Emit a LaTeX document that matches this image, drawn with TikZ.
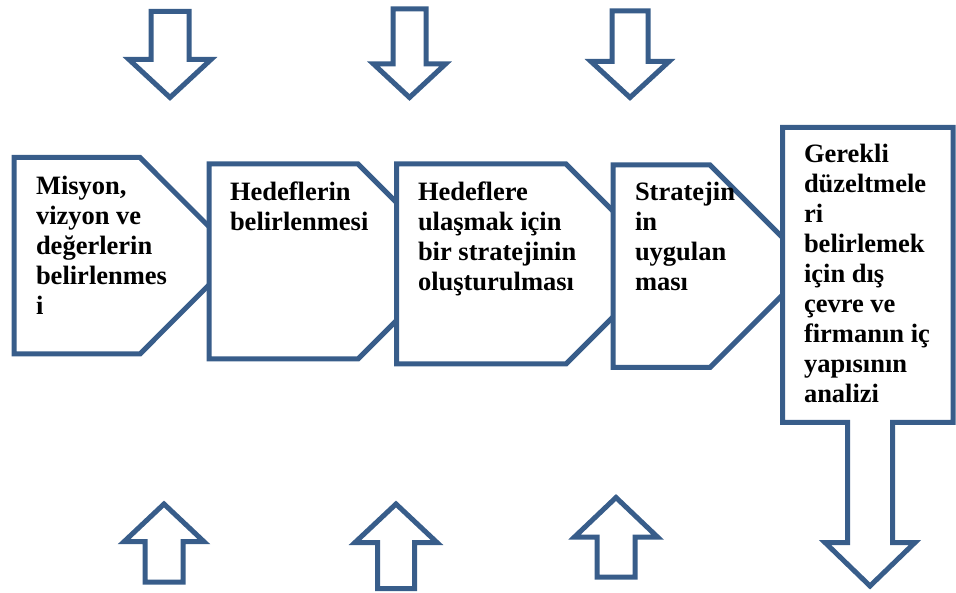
\documentclass[tikz,border=0pt]{standalone}
\usepackage{fontspec}
\setmainfont{Liberation Serif}
\definecolor{outline}{HTML}{385D8A}
\tikzset{
  blockline/.style={draw=outline, line width=5pt, fill=white, line join=miter},
  boxtext/.style={anchor=base west, inner sep=0pt, outer sep=0pt},
}
% down-pointing block arrow: centre x, shaft half width, top, head base, tip, head half width
\newcommand{\DrawDownBlock}[6]{%
  \draw[blockline] ({#1-#2},{#3}) -- ({#1+#2},{#3}) -- ({#1+#2},{#4}) -- ({#1+#6},{#4})
    -- ({#1},{#5}) -- ({#1-#6},{#4}) -- ({#1-#2},{#4}) -- cycle;}
% up-pointing block arrow: centre x, shaft half width, bottom, head base, tip, head half width
\newcommand{\DrawUpBlock}[6]{%
  \draw[blockline] ({#1-#2},{#3}) -- ({#1-#2},{#4}) -- ({#1-#6},{#4}) -- ({#1},{#5})
    -- ({#1+#6},{#4}) -- ({#1+#2},{#4}) -- ({#1+#2},{#3}) -- cycle;}
\newcommand{\BoxLines}[1]{\parbox[t]{6cm}{\fontsize{26.5}{30}\selectfont\bfseries #1\par}}
\begin{document}
\begin{tikzpicture}[x=1pt, y=-1pt]
\useasboundingbox (0,0) rectangle (956,593);

% arrows above the process chain
\DrawDownBlock{170}{19}{11.5}{59.5}{97.5}{41}
\DrawDownBlock{409.5}{16.5}{9}{64}{97.5}{36}
\DrawDownBlock{630}{18}{11}{61.5}{97.5}{39}

% arrows below the process chain
\DrawUpBlock{164}{19}{582}{541.7}{504}{40}
\DrawUpBlock{396}{18.5}{588.5}{542.5}{504}{41}
\DrawUpBlock{616}{19}{577}{537}{497.5}{41.5}

% pentagon steps, each drawn over the point of the previous one
\draw[blockline] (14,157.5) -- (140,157.5) -- (238,255.75) -- (140,354) -- (14,354) -- cycle;
\draw[blockline] (209,164) -- (358,164) -- (455.5,261.5) -- (358,359) -- (209,359) -- cycle;
\draw[blockline] (396.5,164) -- (566,164) -- (666,264) -- (566,364) -- (396.5,364) -- cycle;
\draw[blockline] (613,165) -- (710,165) -- (811.25,266.25) -- (710,367.5) -- (613,367.5) -- cycle;

% last step: box with a downward arrow
\draw[blockline] (782.5,127.5) -- (953,127.5) -- (953,422.5) -- (892.5,422.5) -- (892.5,542.5)
  -- (915,542.5) -- (870,586) -- (825,542.5) -- (847.5,542.5) -- (847.5,422.5)
  -- (782.5,422.5) -- cycle;

% step texts
\node[boxtext] (t1) at (36,195) {\BoxLines{Misyon,\\vizyon ve\\değerlerin\\belirlenmes\\i}};
\node[boxtext] (t2) at (230,200.5) {\BoxLines{Hedeflerin\\belirlenmesi}};
\node[boxtext] (t3) at (418,200.5) {\BoxLines{Hedeflere\\ulaşmak için\\bir stratejinin\\oluşturulması}};
\node[boxtext] (t4) at (635,200.5) {\BoxLines{Stratejin\\in\\uygulan\\ması}};
\node[boxtext] (t5) at (804,163) {\BoxLines{Gerekli\\düzeltmele\\ri\\belirlemek\\için dış\\çevre ve\\firmanın iç\\yapısının\\analizi}};
\end{tikzpicture}
\end{document}
